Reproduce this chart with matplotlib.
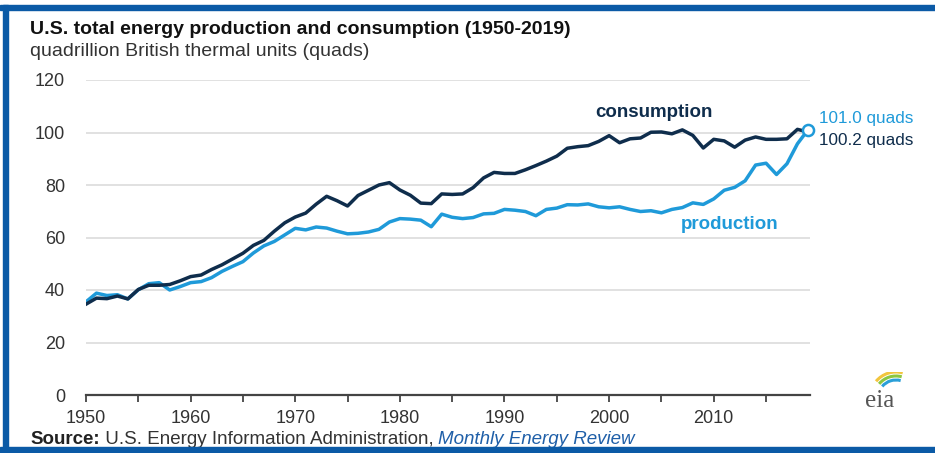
import matplotlib.pyplot as plt
import matplotlib.patches as patches
import numpy as np

years = np.arange(1950, 2020)
consumption = [34.6, 36.9, 36.7, 37.7, 36.6, 40.2, 41.8, 41.8, 42.1, 43.5,
               45.1, 45.7, 47.8, 49.6, 51.8, 54.0, 57.0, 58.9, 62.4, 65.6,
               67.8, 69.3, 72.7, 75.7, 74.0, 72.0, 76.0, 78.0, 80.0, 80.9,
               78.1, 76.1, 73.1, 72.9, 76.6, 76.4, 76.6, 79.0, 82.7, 84.8,
               84.4, 84.4, 85.8, 87.4, 89.1, 91.0, 94.0, 94.6, 95.0, 96.6,
               98.8, 96.1, 97.6, 97.9, 100.1, 100.2, 99.5, 101.0, 98.9, 94.1,
               97.4, 96.8, 94.4, 97.1, 98.3, 97.4, 97.4, 97.6, 101.2, 100.2]
production = [35.5, 38.8, 37.9, 38.2, 36.6, 40.1, 42.4, 42.8, 40.0, 41.3,
              42.8, 43.2, 44.7, 47.1, 49.0, 50.8, 54.1, 56.8, 58.5, 61.0,
              63.5, 62.9, 64.0, 63.6, 62.4, 61.4, 61.6, 62.1, 63.1, 65.9,
              67.2, 67.0, 66.6, 64.1, 68.9, 67.7, 67.2, 67.6, 69.0, 69.2,
              70.7, 70.4, 69.9, 68.3, 70.7, 71.2, 72.5, 72.4, 72.8, 71.7,
              71.3, 71.7, 70.7, 69.9, 70.2, 69.4, 70.7, 71.4, 73.2, 72.6,
              74.7, 78.0, 79.1, 81.6, 87.6, 88.3, 84.0, 88.1, 95.7, 101.0]
xticks = list(range(1950, 2020, 5))
xlabels = [str(y) if y % 10 == 0 else '' for y in xticks]
yticks = [0, 20, 40, 60, 80, 100, 120]

CONS = '#0f2d4c'
PROD = '#1f9ad9'
BORDER = '#0b5aa6'
SANS = ['Liberation Sans', 'DejaVu Sans']

plt.rcParams['font.family'] = SANS

fig = plt.figure(figsize=(9.35, 4.53), dpi=100)
ax = fig.add_axes([86/935, 1 - 395/453, (810-86)/935, (395-80)/453])

ax.plot(years, production, color=PROD, lw=2.5, zorder=3, solid_joinstyle='round')
ax.plot(years, consumption, color=CONS, lw=2.5, zorder=3, solid_joinstyle='round')
ax.plot(years[-1], production[-1], 'o', ms=8, mfc='white', mec=PROD, mew=1.8,
        zorder=4, clip_on=False)

ax.set_xlim(1950, 2019.2)
ax.set_ylim(0, 120)
ax.set_yticks(yticks)
ax.set_yticklabels([str(v) for v in yticks], fontsize=13, color='#333333')
ax.set_xticks(xticks)
ax.set_xticklabels(xlabels, fontsize=13, color='#333333')
ax.tick_params(axis='y', length=0, pad=15)
ax.tick_params(axis='x', direction='out', length=5, width=1.3, color='#444444', pad=6)
ax.grid(axis='y', color='#dcdcdc', lw=1.2)
ax.set_axisbelow(True)
for s in ['top', 'right', 'left']:
    ax.spines[s].set_visible(False)
ax.spines['bottom'].set_color('#444444')
ax.spines['bottom'].set_linewidth(1.6)
ax.spines['bottom'].set_zorder(5)

ax.text(2004.3, 107.5, 'consumption', color=CONS, fontsize=13.5, fontweight='bold',
        ha='center', va='center')
ax.text(2011.5, 64.8, 'production', color=PROD, fontsize=13.5, fontweight='bold',
        ha='center', va='center')
ax.text(2020.1, 105.3, f'{production[-1]:.1f} quads', color=PROD, fontsize=12.3,
        ha='left', va='center', clip_on=False)
ax.text(2020.1, 97.0, f'{consumption[-1]:.1f} quads', color=CONS, fontsize=12.3,
        ha='left', va='center', clip_on=False)

fig.text(30/935, 1 - 29/453, 'U.S. total energy production and consumption (1950-2019)',
         fontsize=14, fontweight='bold', color='#111111', va='center')
fig.text(30/935, 1 - 51/453, 'quadrillion British thermal units (quads)',
         fontsize=14, color='#333333', va='center')

src = fig.text(30/935, 1 - 440/453, 'Source:', fontsize=13.5, fontweight='bold',
               color='#222222', va='center')
a1 = ax.annotate(' U.S. Energy Information Administration, ', xy=(1, 0), xycoords=src,
                 va='bottom', ha='left', fontsize=13.5, color='#333333',
                 annotation_clip=False)
ax.annotate('Monthly Energy Review', xy=(1, 0), xycoords=a1, va='bottom', ha='left',
            fontsize=13.5, color='#1f5fa8', style='italic', annotation_clip=False)

# eia logo
fig.text(880/935, 1 - 401/453, 'eia', fontsize=18, color='#555555', ha='center',
         va='center', family=['Liberation Serif', 'DejaVu Serif'])
lax = fig.add_axes([860/935, 1 - 392/453, 44/935, 20/453])
lax.set_xlim(0, 44)
lax.set_ylim(0, 20)
lax.axis('off')
for r, c in [(26, '#f2c53d'), (22, '#8cc63f'), (18, '#2a9fd8')]:
    lax.add_patch(patches.Arc((36, -6), 2 * r, 2 * r, theta1=75, theta2=140,
                              color=c, lw=2.2))

# frame
fig.patches.append(patches.Rectangle((0, 1 - 10/453), 1, 5/453, transform=fig.transFigure,
                                     color=BORDER, zorder=0))
fig.patches.append(patches.Rectangle((0, 0), 1, 6/453, transform=fig.transFigure,
                                     color=BORDER, zorder=0))
fig.patches.append(patches.Rectangle((3/935, 0), 5/935, 1 - 5/453, transform=fig.transFigure,
                                     color=BORDER, zorder=0))

fig.savefig('out.png', dpi=100)
